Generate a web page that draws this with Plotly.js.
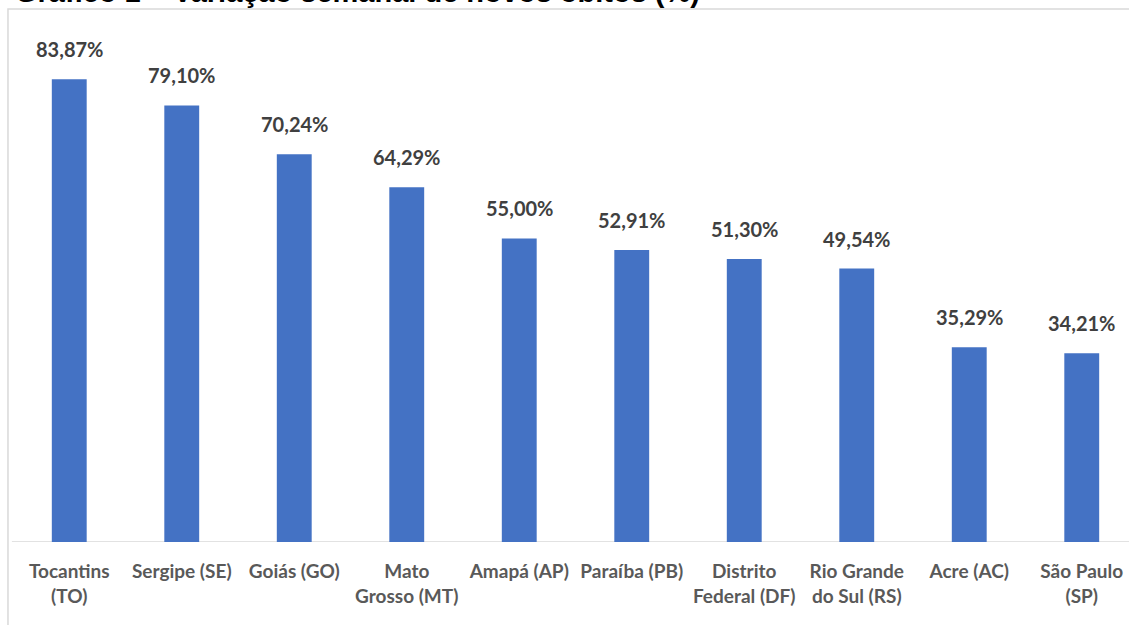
<!DOCTYPE html>
<html><head><meta charset="utf-8">
<script src="https://cdn.plot.ly/plotly-3.0.1.min.js"></script>
<style>html,body{margin:0;padding:0;background:#fff}#chart{width:1129px;height:625px}</style>
</head><body><div id="chart"></div>
<script>
const categories = ["Tocantins<br>(TO)", "Sergipe (SE)", "Goiás (GO)", "Mato<br>Grosso (MT)", "Amapá (AP)", "Paraíba (PB)", "Distrito<br>Federal (DF)", "Rio Grande<br>do Sul (RS)", "Acre (AC)", "São Paulo<br>(SP)"];
const values = [83.87, 79.10, 70.24, 64.29, 55.00, 52.91, 51.30, 49.54, 35.29, 34.21];
const valueLabels = ["83,87%", "79,10%", "70,24%", "64,29%", "55,00%", "52,91%", "51,30%", "49,54%", "35,29%", "34,21%"];
const titleText = "Gráfico 1 – Variação semanal de novos óbitos (%)";

const idx = values.map((v, i) => i);
const labelFont = {family: "Lato, 'Open Sans', sans-serif", size: 20, color: "#404040", weight: 'bold'};

const annotations = values.map((v, i) => ({
  x: i, y: v, xref: 'x', yref: 'y', text: valueLabels[i],
  showarrow: false, yanchor: 'bottom', yshift: 16, font: labelFont
}));
annotations.push({
  xref: 'paper', yref: 'paper', x: 0, y: 0.9993, xanchor: 'left', yanchor: 'bottom',
  text: titleText, showarrow: false,
  font: {family: "'Liberation Sans', Arial, sans-serif", size: 29, color: '#000', weight: 'bold'}
});

const trace = {
  type: 'bar', x: idx, y: values,
  marker: {color: '#4472C4', line: {width: 0}},
  hoverinfo: 'none'
};

const layout = {
  width: 1129, height: 625,
  margin: {l: 13, r: 0, t: 10, b: 83},
  paper_bgcolor: '#fff', plot_bgcolor: '#fff',
  bargap: 0.69,
  showlegend: false,
  xaxis: {
    range: [-0.5, 9.42], tickmode: 'array', tickvals: idx, ticktext: categories,
    showgrid: false, zeroline: false, showline: false, ticks: '', ticklabelstandoff: 16,
    tickfont: {family: "Lato, 'Open Sans', sans-serif", size: 19, color: '#595959', weight: 'bold'}
  },
  yaxis: {range: [0, 96.4], visible: false, showgrid: false, zeroline: false},
  shapes: [
    {type: 'line', xref: 'paper', yref: 'y', x0: -0.001, x1: 1.1, y0: 0, y1: 0, line: {color: '#d9d9d9', width: 1.5}, layer: 'below'},
    {type: 'rect', xref: 'paper', yref: 'paper', x0: -0.0045, x1: 1.2, y0: -0.3, y1: 1.0019, line: {color: '#d9d9d9', width: 1.5}, fillcolor: 'rgba(0,0,0,0)', layer: 'below'}
  ],
  annotations: annotations
};

Plotly.newPlot('chart', [trace], layout, {displayModeBar: false, staticPlot: true});
</script>
</body></html>
